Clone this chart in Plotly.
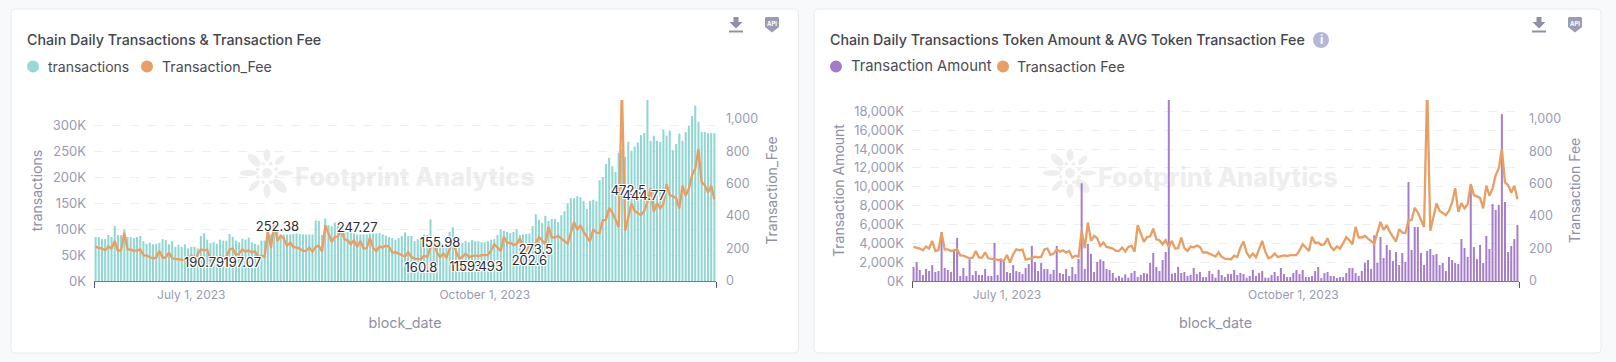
import math
from datetime import date, timedelta
import plotly.graph_objects as go

W, H = 1616, 362
START = date(2023, 6, 1)

transactions = [
    85, 85, 81, 81, 89, 85, 106, 89, 89, 100,
    85, 85, 83, 85, 87, 77, 72, 74, 71, 72,
    74, 81, 79, 71, 77, 66, 70, 66, 71, 63,
    66, 66, 63, 87, 92, 80, 73, 75, 72, 80,
    78, 78, 91, 85, 78, 75, 82, 80, 84, 75,
    72, 70, 78, 78, 90, 90, 106, 98, 90, 90,
    90, 90, 91, 92, 91, 90, 90, 90, 90, 117,
    116, 89, 121, 108, 106, 113, 111, 106, 100, 95,
    95, 92, 90, 90, 90, 90, 92, 92, 92, 93,
    90, 88, 85, 83, 80, 83, 87, 94, 87, 87,
    77, 81, 79, 90, 89, 119, 74, 77, 70, 72,
    77, 95, 104, 77, 77, 74, 77, 75, 79, 77,
    77, 75, 75, 77, 80, 81, 89, 100, 97, 95,
    93, 95, 100, 89, 90, 91, 92, 106, 129, 118,
    112, 126, 116, 120, 120, 114, 127, 135, 150, 160,
    160, 164, 162, 155, 139, 155, 157, 154, 195, 201,
    226, 238, 222, 211, 248, 255, 240, 269, 252, 260,
    268, 282, 286, 350, 271, 281, 271, 269, 293, 281,
    291, 253, 265, 285, 271, 288, 300, 319, 339, 308,
    288, 288, 286, 286, 286,
]

transaction_fee = [
    210, 206, 200, 189, 212, 200, 247, 185, 191, 298,
    195, 195, 185, 189, 195, 158, 156, 148, 138, 144,
    185, 144, 144, 177, 140, 136, 134, 132, 128, 123,
    160, 113, 165, 195, 189, 193, 132, 136, 140, 150,
    146, 148, 195, 200, 160, 169, 195, 181, 189, 175,
    185, 144, 156, 150, 309, 202, 360, 247, 278, 263,
    216, 237, 210, 206, 200, 185, 185, 206, 181, 210,
    218, 181, 344, 292, 241, 272, 274, 323, 257, 251,
    226, 251, 210, 247, 200, 202, 268, 202, 185, 212,
    206, 218, 210, 175, 177, 169, 158, 150, 177, 148,
    138, 136, 134, 156, 148, 206, 243, 175, 146, 169,
    146, 196, 247, 181, 140, 148, 169, 148, 154, 158,
    154, 160, 160, 160, 189, 226, 206, 185, 272, 233,
    237, 222, 228, 263, 212, 191, 212, 200, 233, 270,
    251, 226, 333, 268, 268, 278, 261, 247, 230, 298,
    364, 315, 344, 302, 268, 243, 319, 298, 296, 375,
    375, 451, 422, 377, 333, 1200, 309, 391, 477, 432,
    418, 405, 432, 484, 572, 426, 480, 447, 473, 597,
    529, 521, 512, 447, 587, 525, 570, 652, 694, 813,
    607, 591, 545, 587, 504,
]

transaction_amount = [
    1490, 2020, 1170, 640, 1270, 1060, 1700, 960, 1060, 5200,
    1380, 1170, 960, 3360, 4570, 530, 1380, 530, 2300, 640,
    1060, 640, 640, 1270, 530, 530, 4040, 640, 2400, 2020,
    960, 850, 1700, 1060, 960, 740, 1380, 1800, 3720, 2020,
    1060, 1910, 1270, 1270, 740, 1170, 3720, 850, 740, 1270,
    530, 1490, 740, 2340, 10370, 1270, 3930, 2870, 960, 2020,
    2300, 2120, 1270, 1170, 850, 350, 530, 350, 710, 350,
    850, 1060, 420, 640, 850, 780, 1910, 2970, 1490, 1060,
    2230, 3080, 19500, 780, 850, 1490, 850, 960, 530, 640,
    1380, 740, 960, 420, 420, 1060, 740, 350, 1170, 640,
    420, 740, 740, 1170, 640, 850, 740, 350, 530, 1170,
    530, 850, 1060, 350, 350, 640, 960, 530, 1380, 740,
    420, 420, 850, 1170, 740, 1170, 420, 420, 530, 1060,
    1490, 320, 850, 960, 530, 530, 320, 420, 420, 850,
    1380, 1380, 850, 530, 1060, 1950, 2230, 1270, 4850, 1950,
    4670, 2440, 3820, 3290, 2120, 3080, 1700, 2970, 2020, 10500,
    3290, 5730, 5730, 2970, 1700, 3190, 3400, 2760, 2870, 1700,
    1910, 1060, 2550, 2230, 1910, 1800, 4460, 3500, 2550, 10090,
    3610, 2340, 3820, 1910, 4780, 3400, 8180, 7540, 8070, 17700,
    8390, 3080, 3720, 4460, 5950,
]

assert len(transactions) == len(transaction_fee) == len(transaction_amount)
dates = [START + timedelta(days=i) for i in range(len(transactions))]

label_text = ["190.79", "197.07", "252.38", "247.27", "155.98", "160.8",
              "159.3", "159.493", "273.5", "202.6", "472.5", "444.77"]
label_day = [34, 46, 57, 82, 108, 102, 116, 120, 138, 136, 167, 172]
label_height = [105, 108, 329, 322, 230, 76, 80, 80, 189, 119, 548, 519]
label_dates = [START + timedelta(days=d) for d in label_day]

left_ticks = [0, 50, 100, 150, 200, 250, 300]
left_tick_text = ["0K", "50K", "100K", "150K", "200K", "250K", "300K"]
amount_ticks = [0, 2000, 4000, 6000, 8000, 10000, 12000, 14000, 16000, 18000]
amount_tick_text = ["0K", "2,000K", "4,000K", "6,000K", "8,000K", "10,000K",
                    "12,000K", "14,000K", "16,000K", "18,000K"]
fee_ticks = [0, 200, 400, 600, 800, 1000]
fee_tick_text = ["0", "200", "400", "600", "800", "1,000"]
x_ticks = [date(2023, 7, 1), date(2023, 10, 1)]
x_tick_text = ["July 1, 2023", "October 1, 2023"]

TEAL_FILL = "rgba(143,215,211,0.99)"
PURPLE_FILL = "rgba(164,123,200,0.99)"
PURPLE = "#a47bc8"
ORANGE = "#e99e63"
AXIS_TEXT = "#9a9bb2"
AXIS_TITLE = "#8f90a6"
FONT = "Inter"

def px(x):
    return x / W

def py(y):
    return 1 - y / H

def card(x0, y0, x1, y1, r=4):
    X0, X1, Y0, Y1 = px(x0), px(x1), py(y0), py(y1)
    rx, ry = r / W, r / H
    return dict(
        type="path", xref="paper", yref="paper", layer="below",
        path=(f"M{X0+rx},{Y0} L{X1-rx},{Y0} Q{X1},{Y0} {X1},{Y0-ry} "
              f"L{X1},{Y1+ry} Q{X1},{Y1} {X1-rx},{Y1} L{X0+rx},{Y1} "
              f"Q{X0},{Y1} {X0},{Y1+ry} L{X0},{Y0-ry} Q{X0},{Y0} {X0+rx},{Y0} Z"),
        fillcolor="#ffffff", line=dict(color="#e9eaef", width=1),
    )

def poly(points, fill):
    d = "M" + " L".join(f"{px(a)},{py(b)}" for a, b in points) + " Z"
    return dict(type="path", xref="paper", yref="paper", path=d,
                fillcolor=fill, line=dict(width=0), layer="below")

def petal(cx, cy, angle, dist, a, b, fill="#eeeeee"):
    ca, sa = math.cos(angle), math.sin(angle)
    mx, my = cx + dist * ca, cy + dist * sa
    pts = []
    for k in range(20):
        t = 2 * math.pi * k / 20
        u, v = a * math.cos(t), b * math.sin(t)
        pts.append((mx + u * ca - v * sa, my + u * sa + v * ca))
    return poly(pts, fill)

def logo(cx, cy):
    out = [petal(cx, cy, 0, 0, 5, 5)]
    sizes = [(8, 2.5), (9, 4.5), (7, 3.5), (7, 3), (9, 3), (8, 4), (6, 3.5), (6, 3)]
    for i, (a, b) in enumerate(sizes):
        ang = math.radians(i * 45)
        out.append(petal(cx, cy, ang, 18, a, b))
        out.append(petal(cx, cy, ang + math.radians(22), 10, 1.8, 1.8))
    return out

def download_icon(cx):
    c = "#8f90a6"
    return [
        poly([(cx-2.5, 17), (cx+2.5, 17), (cx+2.5, 22), (cx+6.5, 22), (cx, 28.5),
              (cx-6.5, 22), (cx-2.5, 22)], c),
        poly([(cx-7, 30.5), (cx+7, 30.5), (cx+7, 32.5), (cx-7, 32.5)], c),
    ]

def api_icon(cx):
    c = "#9b9cb3"
    return [poly([(cx-6, 17), (cx+6, 17), (cx+7, 18), (cx+7, 27), (cx, 32.5),
                  (cx-7, 27), (cx-7, 18)], c)]

def dot(cx, cy, r, color):
    return dict(type="circle", xref="paper", yref="paper", layer="below",
                x0=px(cx-r), x1=px(cx+r), y0=py(cy+r), y1=py(cy-r),
                fillcolor=color, line=dict(width=0))

def text(x, y, s, size, color, anchor="left", weight=None, **kw):
    return dict(xref="paper", yref="paper", x=px(x), y=py(y), text=s, showarrow=False,
                xanchor=anchor, yanchor="middle",
                font=dict(family=FONT, size=size, color=color, weight=weight), **kw)

fig = go.Figure()

halo = "-1px -1px 0 #fff, 1px -1px 0 #fff, -1px 1px 0 #fff, 1px 1px 0 #fff, 0 0 2px #fff"

# Left chart
fig.add_trace(go.Bar(x=dates, y=transactions, xaxis="x", yaxis="y", showlegend=False,
                     marker=dict(color=TEAL_FILL, line=dict(width=0)), name="transactions"))
fig.add_trace(go.Scatter(x=dates, y=transaction_fee, xaxis="x", yaxis="y2", mode="lines", showlegend=False,
                         line=dict(color=ORANGE, width=2.3), name="Transaction_Fee"))
fig.add_trace(go.Scatter(x=label_dates, y=label_height, xaxis="x", yaxis="y2", mode="text",
                         text=label_text, textposition="middle center", showlegend=False, hoverinfo="skip",
                         cliponaxis=False,
                         textfont=dict(family=FONT, size=13, color="#2c2c38", shadow=halo)))

# Right chart
fig.add_trace(go.Bar(x=dates, y=transaction_amount, xaxis="x2", yaxis="y3", showlegend=False,
                     marker=dict(color=PURPLE_FILL, line=dict(width=0)), name="Transaction Amount"))
fig.add_trace(go.Scatter(x=dates, y=transaction_fee, xaxis="x2", yaxis="y4", mode="lines", showlegend=False,
                         line=dict(color=ORANGE, width=2.3), name="Transaction Fee"))

range_lo = "2023-05-31 12:00"
range_hi = "2023-12-12 12:00"

def x_axis(x0, x1, anchor):
    return dict(
        domain=[px(x0), px(x1)], anchor=anchor, type="date", range=[range_lo, range_hi],
        tickvals=x_ticks, ticktext=x_tick_text, ticks="", showgrid=False,
        ticklabelstandoff=3,
        tickfont=dict(family=FONT, size=12, color=AXIS_TEXT),
        showline=True, linecolor="#77788a", linewidth=1, zeroline=False,
        title=dict(text="block_date", font=dict(family=FONT, size=14.3, color=AXIS_TITLE), standoff=16),
        minor=dict(tickvals=[range_lo, range_hi], ticks="outside", ticklen=6, tickwidth=1, tickcolor="#555566"),
    )

def y_left(rng, ticks, tick_text, title, anchor):
    return dict(
        domain=[py(281), py(100)], range=rng, tickvals=ticks, ticktext=tick_text,
        anchor=anchor,
        tickfont=dict(family=FONT, size=13, color=AXIS_TEXT),
        showgrid=True, gridcolor="#eeeff3", griddash="dash", gridwidth=1, zeroline=False,
        showline=False, ticks="", ticklabelstandoff=7,
        title=dict(text=title, font=dict(family=FONT, size=14, color=AXIS_TITLE), standoff=6),
    )

def y_right(over, anchor, title):
    return dict(
        domain=[py(281), py(100)], range=[0, 1115], tickvals=fee_ticks, ticktext=fee_tick_text, overlaying=over,
        side="right", anchor=anchor, showgrid=False, zeroline=False, showline=False, ticks="",
        ticklabelstandoff=9,
        tickfont=dict(family=FONT, size=12.5, color=AXIS_TEXT),
        title=dict(text=title, font=dict(family=FONT, size=14, color=AXIS_TITLE), standoff=10),
    )

shapes = [card(11, 9, 798.5, 353), card(814, 9, 1601, 353)]
shapes += logo(267, 173) + logo(1070, 173)
for off in (0, 803):
    shapes += download_icon(736 + off) + api_icon(772 + off)
shapes.append(dot(1321, 40, 8, "#b4b7d9"))
shapes += [dot(33, 66.5, 6, "#96d9d5"), dot(147, 66.5, 6, ORANGE),
           dot(836, 66.5, 6, PURPLE), dot(1003, 66.5, 6, ORANGE)]

annotations = [
    text(25, 40, "Chain Daily Transactions &amp; Transaction Fee", 14.25, "#45454f", weight=500),
    text(828, 40, "Chain Daily Transactions Token Amount &amp; AVG Token Transaction Fee", 14.25, "#45454f", weight=500),
    text(1321, 40, "i", 12, "#ffffff", anchor="center", weight=700),
    text(772, 23, "API", 6, "#ffffff", anchor="center", weight=700),
    text(1575, 23, "API", 6, "#ffffff", anchor="center", weight=700),
    text(293, 177, "Footprint Analytics", 25.2, "rgba(215,215,215,0.42)", weight=800),
    text(1096, 177, "Footprint Analytics", 25.2, "rgba(215,215,215,0.42)", weight=800),
    text(46, 66.5, "transactions", 14, "#4a4a55"),
    text(160, 66.5, "Transaction_Fee", 14.2, "#4a4a55"),
    text(849, 66.5, "Transaction Amount", 14.8, "#4a4a55"),
    text(1015, 66.5, "Transaction Fee", 14.3, "#4a4a55"),
]

fig.update_layout(
    width=W, height=H, autosize=False,
    margin=dict(l=0, r=0, t=0, b=0, autoexpand=False),
    paper_bgcolor="#f8f9fb", plot_bgcolor="rgba(0,0,0,0)",
    barmode="overlay", bargap=0.36,
    hovermode=False, showlegend=False,
    font=dict(family=FONT),
    xaxis=x_axis(94, 716, "y"),
    yaxis=y_left([0, 350], left_ticks, left_tick_text, "transactions", "x"),
    yaxis2=y_right("y", "x", "Transaction_Fee"),
    xaxis2=x_axis(912, 1519, "y3"),
    yaxis3=y_left([0, 19200], amount_ticks, amount_tick_text, "Transaction Amount", "x2"),
    yaxis4=y_right("y3", "x2", "Transaction Fee"),
    shapes=shapes,
    annotations=annotations,
)

fig.write_html("out.html", config=dict(displayModeBar=False),
               post_script="document.body.style.margin='0';document.body.style.background='#f8f9fb';")
